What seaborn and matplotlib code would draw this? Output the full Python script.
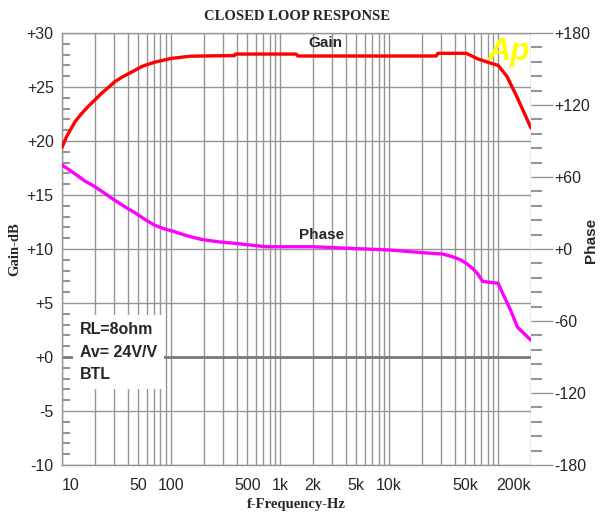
import numpy as np
import pandas as pd
import matplotlib
matplotlib.use("Agg")
import matplotlib.pyplot as plt
import seaborn as sns
from matplotlib.ticker import FixedLocator, MultipleLocator, LogLocator, NullFormatter, FuncFormatter

# Closed-loop gain (dB) versus frequency (Hz)
gain_freq = [10, 11, 13.2, 15, 17.4, 20, 23, 30.6, 36, 42, 54, 71, 101, 150, 300, 380, 390,
             1400, 1450, 27000, 28000, 51000, 65000, 80000, 100000, 120000, 150000, 200000]
gain_db = [19.4, 20.4, 21.8, 22.5, 23.2, 23.8, 24.4, 25.5, 25.95, 26.3, 26.9, 27.3, 27.65,
           27.85, 27.9, 27.9, 28.05, 28.05, 27.87, 27.87, 28.12, 28.12, 27.6, 27.3, 27.0,
           26.0, 24.0, 21.2]

# Closed-loop phase (degrees) versus frequency (Hz)
phase_freq = [10, 13, 16, 20, 25, 30, 38, 47, 58, 70, 85, 108, 140, 190, 270, 390, 730, 2000,
              5000, 10000, 20000, 31000, 38000, 45000, 51000, 58000, 64000, 72000, 100000,
              110000, 130000, 150000, 175000, 200000]
phase_deg = [70, 63, 57, 52, 46, 41, 35, 30, 24.5, 20, 17, 14.4, 11, 8, 6, 4.7, 1.9, 1.9,
             0.3, -0.8, -3, -4.2, -6.4, -9, -12, -16, -20, -27, -28.6, -37, -51, -65, -71, -76]

freq_ticks = [10, 50, 100, 500, 1000, 2000, 5000, 10000, 50000, 200000]
freq_labels = ["10", "50", "100", "500", "1k", "2k", "5k", "10k", "50k", "200k"]

gain_df = pd.DataFrame({"freq": gain_freq, "gain": gain_db})
phase_df = pd.DataFrame({"freq": phase_freq, "phase": phase_deg})

sns.set_style("white")
plt.rcParams["font.family"] = ["Liberation Sans", "DejaVu Sans"]

fig = plt.figure(figsize=(6.0, 5.15), dpi=100)
ax = fig.add_axes([62 / 600, 1 - 465 / 515, (531 - 62) / 600, (465 - 33) / 515])
ax2 = ax.twinx()

grid_c = "#959595"

sns.lineplot(data=gain_df, x="freq", y="gain", ax=ax, color="#ff0000", lw=2.4, zorder=5)
sns.lineplot(data=phase_df, x="freq", y="phase", ax=ax2, color="#ff00ff", lw=2.4, zorder=5)

ax.set_xscale("log")
ax.set_xlim(10, 200000)
ax.set_ylim(-10, 30)
ax2.set_ylim(-180, 180)

# Frequency axis
ax.xaxis.set_major_locator(FixedLocator(freq_ticks))
ax.xaxis.set_major_formatter(FuncFormatter(lambda v, p: freq_labels[freq_ticks.index(v)] if v in freq_ticks else ""))
ax.xaxis.set_minor_locator(LogLocator(base=10, subs=np.arange(1, 10), numticks=60))
ax.xaxis.set_minor_formatter(NullFormatter())
ax.tick_params(axis="x", which="both", length=0, pad=9, labelsize=11.5)
for lbl in ax.get_xticklabels():
    if lbl.get_text() == "10":
        lbl.set_horizontalalignment("left")
    if lbl.get_text() == "200k":
        lbl.set_horizontalalignment("right")

# Gain axis
ax.yaxis.set_major_locator(MultipleLocator(5))
ax.yaxis.set_minor_locator(MultipleLocator(1))
ax.yaxis.set_major_formatter(FuncFormatter(lambda v, p: f"+{v:.0f}" if v >= 0 else f"{v:.0f}"))
ax.tick_params(axis="y", which="major", length=0, pad=6, labelsize=11.5)
ax.tick_params(axis="y", which="minor", direction="in", length=6, width=1.5, color=grid_c)

# Phase axis
ax2.yaxis.set_major_locator(MultipleLocator(60))
ax2.yaxis.set_minor_locator(MultipleLocator(12))
ax2.yaxis.set_major_formatter(FuncFormatter(lambda v, p: f"+{v:.0f}" if v >= 0 else f"{v:.0f}"))
ax2.tick_params(axis="y", which="major", direction="out", length=16, width=1, color=grid_c, pad=1, labelsize=11.5)
ax2.tick_params(axis="y", which="minor", direction="out", length=8, width=1.5, color=grid_c)

# Grid
ax.grid(which="both", axis="x", color=grid_c, lw=1)
ax.grid(which="major", axis="y", color=grid_c, lw=1)
ax.axhline(0, color="#7a7a7a", lw=2, zorder=2)
ax2.grid(False)

for s in ["left", "top", "bottom"]:
    ax.spines[s].set_color(grid_c)
    ax.spines[s].set_linewidth(1)
ax.spines["right"].set_visible(False)
for s in ax2.spines.values():
    s.set_visible(False)

ax.set_xlabel("f-Frequency-Hz", family="Liberation Serif", fontweight="bold", fontsize=10.5, labelpad=4)
ax.set_ylabel("Gain-dB", family="Liberation Serif", fontweight="bold", fontsize=10.5, labelpad=4)
ax2.set_ylabel("Phase", fontweight="bold", fontsize=11)
ax2.yaxis.set_label_coords(1.128, 0.52)
ax2.yaxis.label.set_verticalalignment("center")
ax2.yaxis.label.set_horizontalalignment("center")
ax.set_title("CLOSED LOOP RESPONSE", family="Liberation Serif", fontweight="bold", fontsize=10.5, pad=9)

# Curve names
ax.text(2600, 29.1, "Gain", ha="center", va="center", fontsize=11, fontweight="bold", zorder=6)
ax.text(2400, 11.3, "Phase", ha="center", va="center", fontsize=11, fontweight="bold", zorder=6)

# Test conditions
ax.text(14.5, 0.45, "RL=8ohm\nAv= 24V/V\nBTL", ha="left", va="center", fontsize=11.5,
        fontweight="bold", linespacing=1.65, zorder=6,
        bbox=dict(facecolor="white", edgecolor="none", pad=5))

# Analyzer logo
ax.text(126000, 28.2, "Ap", ha="center", va="center", fontsize=23, fontweight="bold",
        style="italic", color="#ffff00", zorder=3)

fig.savefig("out.png", dpi=100)
